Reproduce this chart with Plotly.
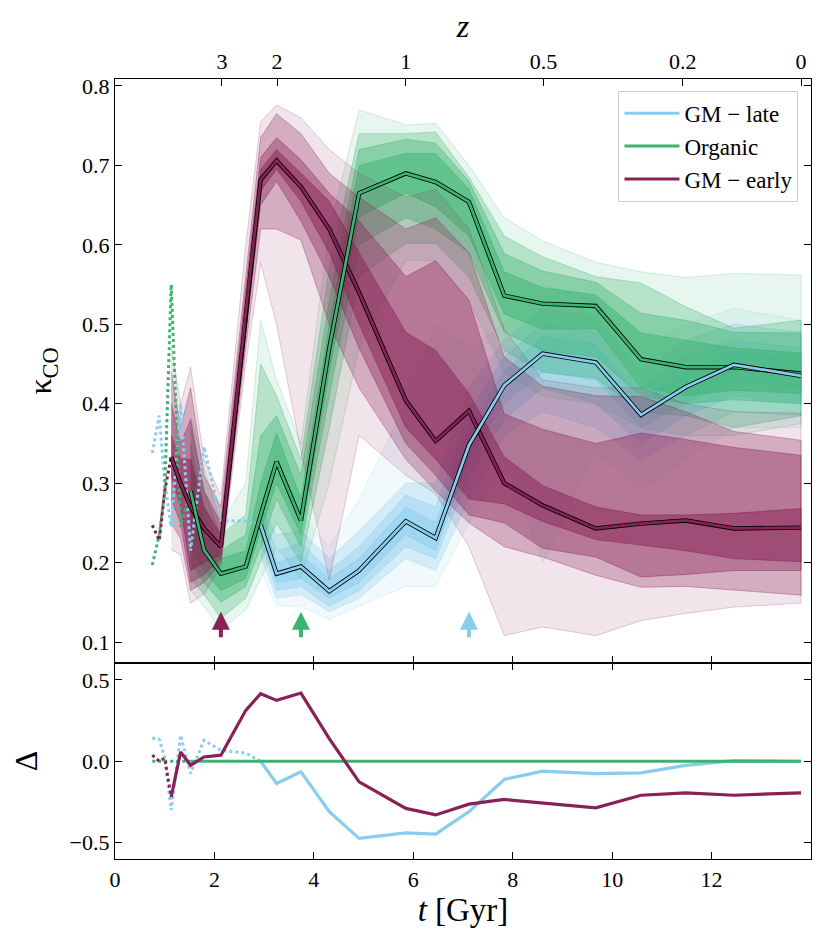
import plotly.graph_objects as go

# ---------------- data ----------------
# snapshot times [Gyr]
T_early = [1.13, 1.32, 1.52, 1.79, 2.13, 2.63, 2.93, 3.25, 3.74, 4.31, 4.91, 5.85, 6.45, 7.12, 7.83, 8.6, 9.67, 10.58, 11.48, 12.45, 13.8]
T_org = [1.52, 1.79, 2.13, 2.63, 2.93, 3.25, 3.74, 4.31, 4.91, 5.85, 6.45, 7.12, 7.83, 8.6, 9.67, 10.58, 11.48, 12.45, 13.8]
T_late = [2.93, 3.25, 3.74, 4.31, 4.91, 5.85, 6.45, 7.12, 7.83, 8.6, 9.67, 10.58, 11.48, 12.45, 13.8]

# GM - early
med_e = [0.333, 0.300, 0.270, 0.243, 0.220, 0.515, 0.682, 0.706, 0.673, 0.620, 0.540, 0.404, 0.353, 0.391, 0.300, 0.272, 0.243, 0.249, 0.253, 0.243, 0.244]
lo4_e = [0.31, 0.27, 0.19, 0.20, 0.21, 0.50, 0.668, 0.695, 0.655, 0.59, 0.50, 0.37, 0.33, 0.28, 0.274, 0.252, 0.229, 0.222, 0.215, 0.205, 0.201]
hi4_e = [0.36, 0.33, 0.33, 0.27, 0.235, 0.53, 0.695, 0.72, 0.69, 0.655, 0.59, 0.49, 0.467, 0.413, 0.333, 0.297, 0.27, 0.26, 0.26, 0.262, 0.268]
lo3_e = [0.28, 0.25, 0.175, 0.185, 0.205, 0.49, 0.65, 0.68, 0.63, 0.56, 0.47, 0.35, 0.31, 0.26, 0.25, 0.218, 0.207, 0.182, 0.185, 0.19, 0.19]
hi3_e = [0.40, 0.35, 0.38, 0.29, 0.25, 0.545, 0.71, 0.735, 0.707, 0.665, 0.63, 0.56, 0.58, 0.53, 0.387, 0.368, 0.35, 0.363, 0.355, 0.345, 0.335]
lo2_e = [0.25, 0.23, 0.165, 0.175, 0.20, 0.47, 0.62, 0.62, 0.606, 0.50, 0.42, 0.33, 0.29, 0.25, 0.22, 0.207, 0.184, 0.169, 0.17, 0.165, 0.159]
hi2_e = [0.44, 0.37, 0.42, 0.31, 0.27, 0.56, 0.735, 0.765, 0.74, 0.69, 0.66, 0.62, 0.634, 0.59, 0.459, 0.422, 0.41, 0.409, 0.39, 0.365, 0.354]
lo1_e = [0.216, 0.21, 0.149, 0.16, 0.195, 0.45, 0.577, 0.50, 0.34, 0.178, 0.36, 0.31, 0.287, 0.22, 0.108, 0.119, 0.108, 0.127, 0.136, 0.144, 0.149]
hi1_e = [0.472, 0.40, 0.446, 0.33, 0.285, 0.60, 0.755, 0.776, 0.76, 0.72, 0.69, 0.66, 0.67, 0.62, 0.494, 0.43, 0.42, 0.42, 0.40, 0.39, 0.388]

# Organic
med_o = [0.290, 0.216, 0.186, 0.195, 0.260, 0.327, 0.253, 0.470, 0.665, 0.690, 0.679, 0.654, 0.536, 0.526, 0.523, 0.456, 0.446, 0.446, 0.438]
lo4_o = [0.22, 0.19, 0.165, 0.18, 0.24, 0.30, 0.235, 0.44, 0.635, 0.665, 0.648, 0.611, 0.513, 0.494, 0.494, 0.421, 0.41, 0.417, 0.413]
hi4_o = [0.33, 0.25, 0.205, 0.215, 0.30, 0.363, 0.28, 0.50, 0.70, 0.715, 0.715, 0.67, 0.566, 0.546, 0.537, 0.489, 0.48, 0.47, 0.464]
lo3_o = [0.20, 0.175, 0.15, 0.17, 0.22, 0.28, 0.22, 0.41, 0.60, 0.634, 0.62, 0.59, 0.49, 0.467, 0.459, 0.41, 0.40, 0.405, 0.40]
hi3_o = [0.35, 0.27, 0.215, 0.235, 0.36, 0.385, 0.31, 0.53, 0.72, 0.733, 0.728, 0.68, 0.589, 0.567, 0.553, 0.514, 0.505, 0.49, 0.489]
lo2_o = [0.18, 0.16, 0.13, 0.155, 0.20, 0.25, 0.20, 0.37, 0.56, 0.602, 0.602, 0.56, 0.467, 0.44, 0.432, 0.39, 0.385, 0.37, 0.385]
hi2_o = [0.37, 0.29, 0.235, 0.26, 0.45, 0.41, 0.33, 0.57, 0.74, 0.74, 0.742, 0.685, 0.611, 0.585, 0.56, 0.552, 0.522, 0.495, 0.505]
lo1_o = [0.165, 0.145, 0.115, 0.14, 0.18, 0.22, 0.18, 0.30, 0.47, 0.58, 0.58, 0.53, 0.44, 0.41, 0.40, 0.37, 0.36, 0.36, 0.375]
hi1_o = [0.385, 0.32, 0.25, 0.30, 0.505, 0.43, 0.35, 0.62, 0.77, 0.751, 0.753, 0.70, 0.634, 0.605, 0.578, 0.566, 0.559, 0.564, 0.562]

# GM - late
med_l = [0.247, 0.186, 0.195, 0.164, 0.190, 0.252, 0.231, 0.348, 0.423, 0.463, 0.452, 0.386, 0.421, 0.449, 0.435]
lo4_l = [0.235, 0.175, 0.18, 0.155, 0.175, 0.235, 0.215, 0.33, 0.40, 0.44, 0.43, 0.37, 0.40, 0.43, 0.42]
hi4_l = [0.26, 0.20, 0.21, 0.18, 0.205, 0.27, 0.25, 0.37, 0.441, 0.485, 0.475, 0.405, 0.44, 0.465, 0.455]
lo3_l = [0.225, 0.165, 0.17, 0.145, 0.165, 0.22, 0.205, 0.31, 0.38, 0.42, 0.40, 0.35, 0.385, 0.41, 0.40]
hi3_l = [0.265, 0.215, 0.225, 0.19, 0.22, 0.285, 0.27, 0.39, 0.459, 0.50, 0.49, 0.42, 0.46, 0.48, 0.47]
lo2_l = [0.21, 0.155, 0.16, 0.138, 0.155, 0.205, 0.19, 0.28, 0.36, 0.39, 0.37, 0.33, 0.36, 0.39, 0.385]
hi2_l = [0.27, 0.235, 0.24, 0.205, 0.24, 0.30, 0.30, 0.42, 0.48, 0.52, 0.51, 0.44, 0.48, 0.50, 0.49]
lo1_l = [0.19, 0.145, 0.145, 0.128, 0.145, 0.17, 0.17, 0.25, 0.33, 0.20, 0.34, 0.29, 0.33, 0.37, 0.37]
hi1_l = [0.28, 0.27, 0.26, 0.22, 0.28, 0.40, 0.50, 0.47, 0.50, 0.55, 0.53, 0.47, 0.50, 0.52, 0.505]

# early (dotted) parts of the medians
T_dot_e = [0.75, 0.89, 1.0, 1.13]
dot_e = [0.247, 0.228, 0.29, 0.333]
T_dot_o = [0.75, 0.89, 1.0, 1.13, 1.32, 1.52]
dot_o = [0.197, 0.235, 0.29, 0.55, 0.245, 0.29]
T_dot_l = [0.75, 0.89, 1.0, 1.13, 1.32, 1.52, 1.79, 2.13, 2.63, 2.93]
dot_l = [0.338, 0.385, 0.30, 0.245, 0.40, 0.215, 0.346, 0.253, 0.252, 0.247]

# Delta panel
d_dot_l = [0.143, 0.135, 0.02, -0.30, 0.16, -0.075, 0.129, 0.067, 0.05, 0.0]
d_l = [0.0, -0.137, -0.065, -0.31, -0.474, -0.44, -0.448, -0.31, -0.112, -0.061, -0.076, -0.072, -0.025, 0.004, 0.0]
d_dot_e = [0.037, 0.0, 0.018, -0.22]
d_e = [-0.22, 0.057, -0.025, 0.026, 0.037, 0.313, 0.415, 0.374, 0.419, 0.139, -0.127, -0.29, -0.33, -0.264, -0.235, -0.255, -0.286, -0.209, -0.194, -0.209, -0.194]
d_dot_o = [0.0, 0.0, 0.0, 0.0, 0.0, 0.0]
d_o = [0.0] * len(T_org)

# arrows (transition times)
arrow_t = [2.13, 3.74, 7.12]
# redshift axis
z_labels = ["3", "2", "1", "0.5", "0.2", "0"]
z_times = [2.15, 3.26, 5.85, 8.62, 11.42, 13.8]
t_ticks = [0, 2, 4, 6, 8, 10, 12]

# ---------------- style ----------------
C_LATE = "#88CCEE"
C_ORG = "#3CB371"
C_EARLY = "#882255"
ALPHAS = [0.12, 0.28, 0.38, 0.5]
FONT = "Liberation Serif"


def rgba(hexc, a):
    h = hexc.lstrip("#")
    r, g, b = int(h[0:2], 16), int(h[2:4], 16), int(h[4:6], 16)
    return f"rgba({r},{g},{b},{a})"


fig = go.Figure()


def add_bands(T, bands, color):
    for (lo, hi), a in zip(bands, ALPHAS):
        fig.add_trace(go.Scatter(
            x=list(T) + list(T)[::-1], y=list(hi) + list(lo)[::-1],
            fill="toself", fillcolor=rgba(color, a), mode="lines",
            line=dict(color=rgba(color, min(1, a + 0.15)), width=0.8),
            hoverinfo="skip", showlegend=False, xaxis="x", yaxis="y"))


add_bands(T_late, [(lo1_l, hi1_l), (lo2_l, hi2_l), (lo3_l, hi3_l), (lo4_l, hi4_l)], C_LATE)
add_bands(T_org, [(lo1_o, hi1_o), (lo2_o, hi2_o), (lo3_o, hi3_o), (lo4_o, hi4_o)], C_ORG)
add_bands(T_early, [(lo1_e, hi1_e), (lo2_e, hi2_e), (lo3_e, hi3_e), (lo4_e, hi4_e)], C_EARLY)

# dotted early parts
for T, y, c in [(T_dot_l, dot_l, C_LATE), (T_dot_o, dot_o, C_ORG), (T_dot_e, dot_e, C_EARLY)]:
    fig.add_trace(go.Scatter(x=T, y=y, mode="lines", line=dict(color=c, width=3, dash="dot"),
                             showlegend=False, hoverinfo="skip", xaxis="x", yaxis="y"))

# medians with black outline
for T, y, c in [(T_early, med_e, C_EARLY), (T_org, med_o, C_ORG), (T_late, med_l, C_LATE)]:
    fig.add_trace(go.Scatter(x=T, y=y, mode="lines", line=dict(color="black", width=4.4),
                             showlegend=False, hoverinfo="skip", xaxis="x", yaxis="y"))
    fig.add_trace(go.Scatter(x=T, y=y, mode="lines", line=dict(color=c, width=2.7),
                             showlegend=False, hoverinfo="skip", xaxis="x", yaxis="y"))

# legend entries
for name, c in [("GM − late", C_LATE), ("Organic", C_ORG), ("GM − early", C_EARLY)]:
    fig.add_trace(go.Scatter(x=[None], y=[None], mode="lines", line=dict(color=c, width=3),
                             name=name, xaxis="x", yaxis="y"))

# invisible trace so the top redshift axis is drawn
fig.add_trace(go.Scatter(x=[0, 14], y=[None, None], mode="lines", showlegend=False,
                         hoverinfo="skip", xaxis="x3", yaxis="y"))

# Delta panel
for T, y, c in [(T_dot_l, d_dot_l, C_LATE), (T_dot_o, d_dot_o, C_ORG), (T_dot_e, d_dot_e, C_EARLY)]:
    fig.add_trace(go.Scatter(x=T, y=y, mode="lines", line=dict(color=c, width=3, dash="dot"),
                             showlegend=False, hoverinfo="skip", xaxis="x2", yaxis="y2"))
for T, y, c in [(T_late, d_l, C_LATE), (T_org, d_o, C_ORG), (T_early, d_e, C_EARLY)]:
    fig.add_trace(go.Scatter(x=T, y=y, mode="lines", line=dict(color=c, width=3.2),
                             showlegend=False, hoverinfo="skip", xaxis="x2", yaxis="y2"))

# arrows
for t, c in zip(arrow_t, [C_EARLY, C_ORG, C_LATE]):
    fig.add_annotation(x=t, y=0.138, ax=t, ay=0.104, xref="x", yref="y", axref="x", ayref="y",
                       text="", showarrow=True, arrowhead=2, arrowsize=0.9, arrowwidth=4,
                       arrowcolor=c)

ax_common = dict(showline=True, linecolor="black", linewidth=1.4, ticks="inside",
                 ticklen=7, tickwidth=1.3, tickcolor="black", showgrid=False, zeroline=False,
                 automargin=False,
                 tickfont=dict(family=FONT, size=22, color="black"))

LOW = 0.2513
fig.update_layout(
    width=830, height=949,
    margin=dict(l=107, r=27, t=71, b=98),
    paper_bgcolor="white", plot_bgcolor="white",
    font=dict(family=FONT, size=22, color="black"),
    xaxis=dict(domain=[0, 1], range=[0, 14], anchor="y", tickvals=t_ticks, showticklabels=False,
               mirror=False, **ax_common),
    yaxis=dict(domain=[LOW, 1], range=[0.0736, 0.8088], dtick=0.1, tickformat=".1f", mirror="ticks",
               title=dict(text="κ<sub>CO</sub>", font=dict(family=FONT, size=32), standoff=20), **ax_common),
    xaxis2=dict(domain=[0, 1], range=[0, 14], anchor="y2", tickvals=t_ticks, mirror="ticks",
                title=dict(text="<i>t</i> [Gyr]", font=dict(family=FONT, size=33), standoff=2), **ax_common),
    yaxis2=dict(domain=[0, LOW], range=[-0.601, 0.604], tickvals=[-0.5, 0, 0.5],
                ticktext=["−0.5", "0.0", "0.5"], mirror="ticks",
                title=dict(text="Δ", font=dict(family=FONT, size=32), standoff=22), **ax_common),
    xaxis3=dict(overlaying="x", side="top", anchor="y", range=[0, 14], tickvals=z_times, ticktext=z_labels,
                title=dict(text="<i>z</i>", font=dict(family=FONT, size=32), standoff=4), **ax_common),
    legend=dict(x=0.982, y=0.985, xanchor="right", yanchor="top", bgcolor="white",
                bordercolor="#cccccc", borderwidth=1, font=dict(family=FONT, size=23),
                itemwidth=55, tracegroupgap=4),
    showlegend=True,
)

fig.write_html("out.html")
